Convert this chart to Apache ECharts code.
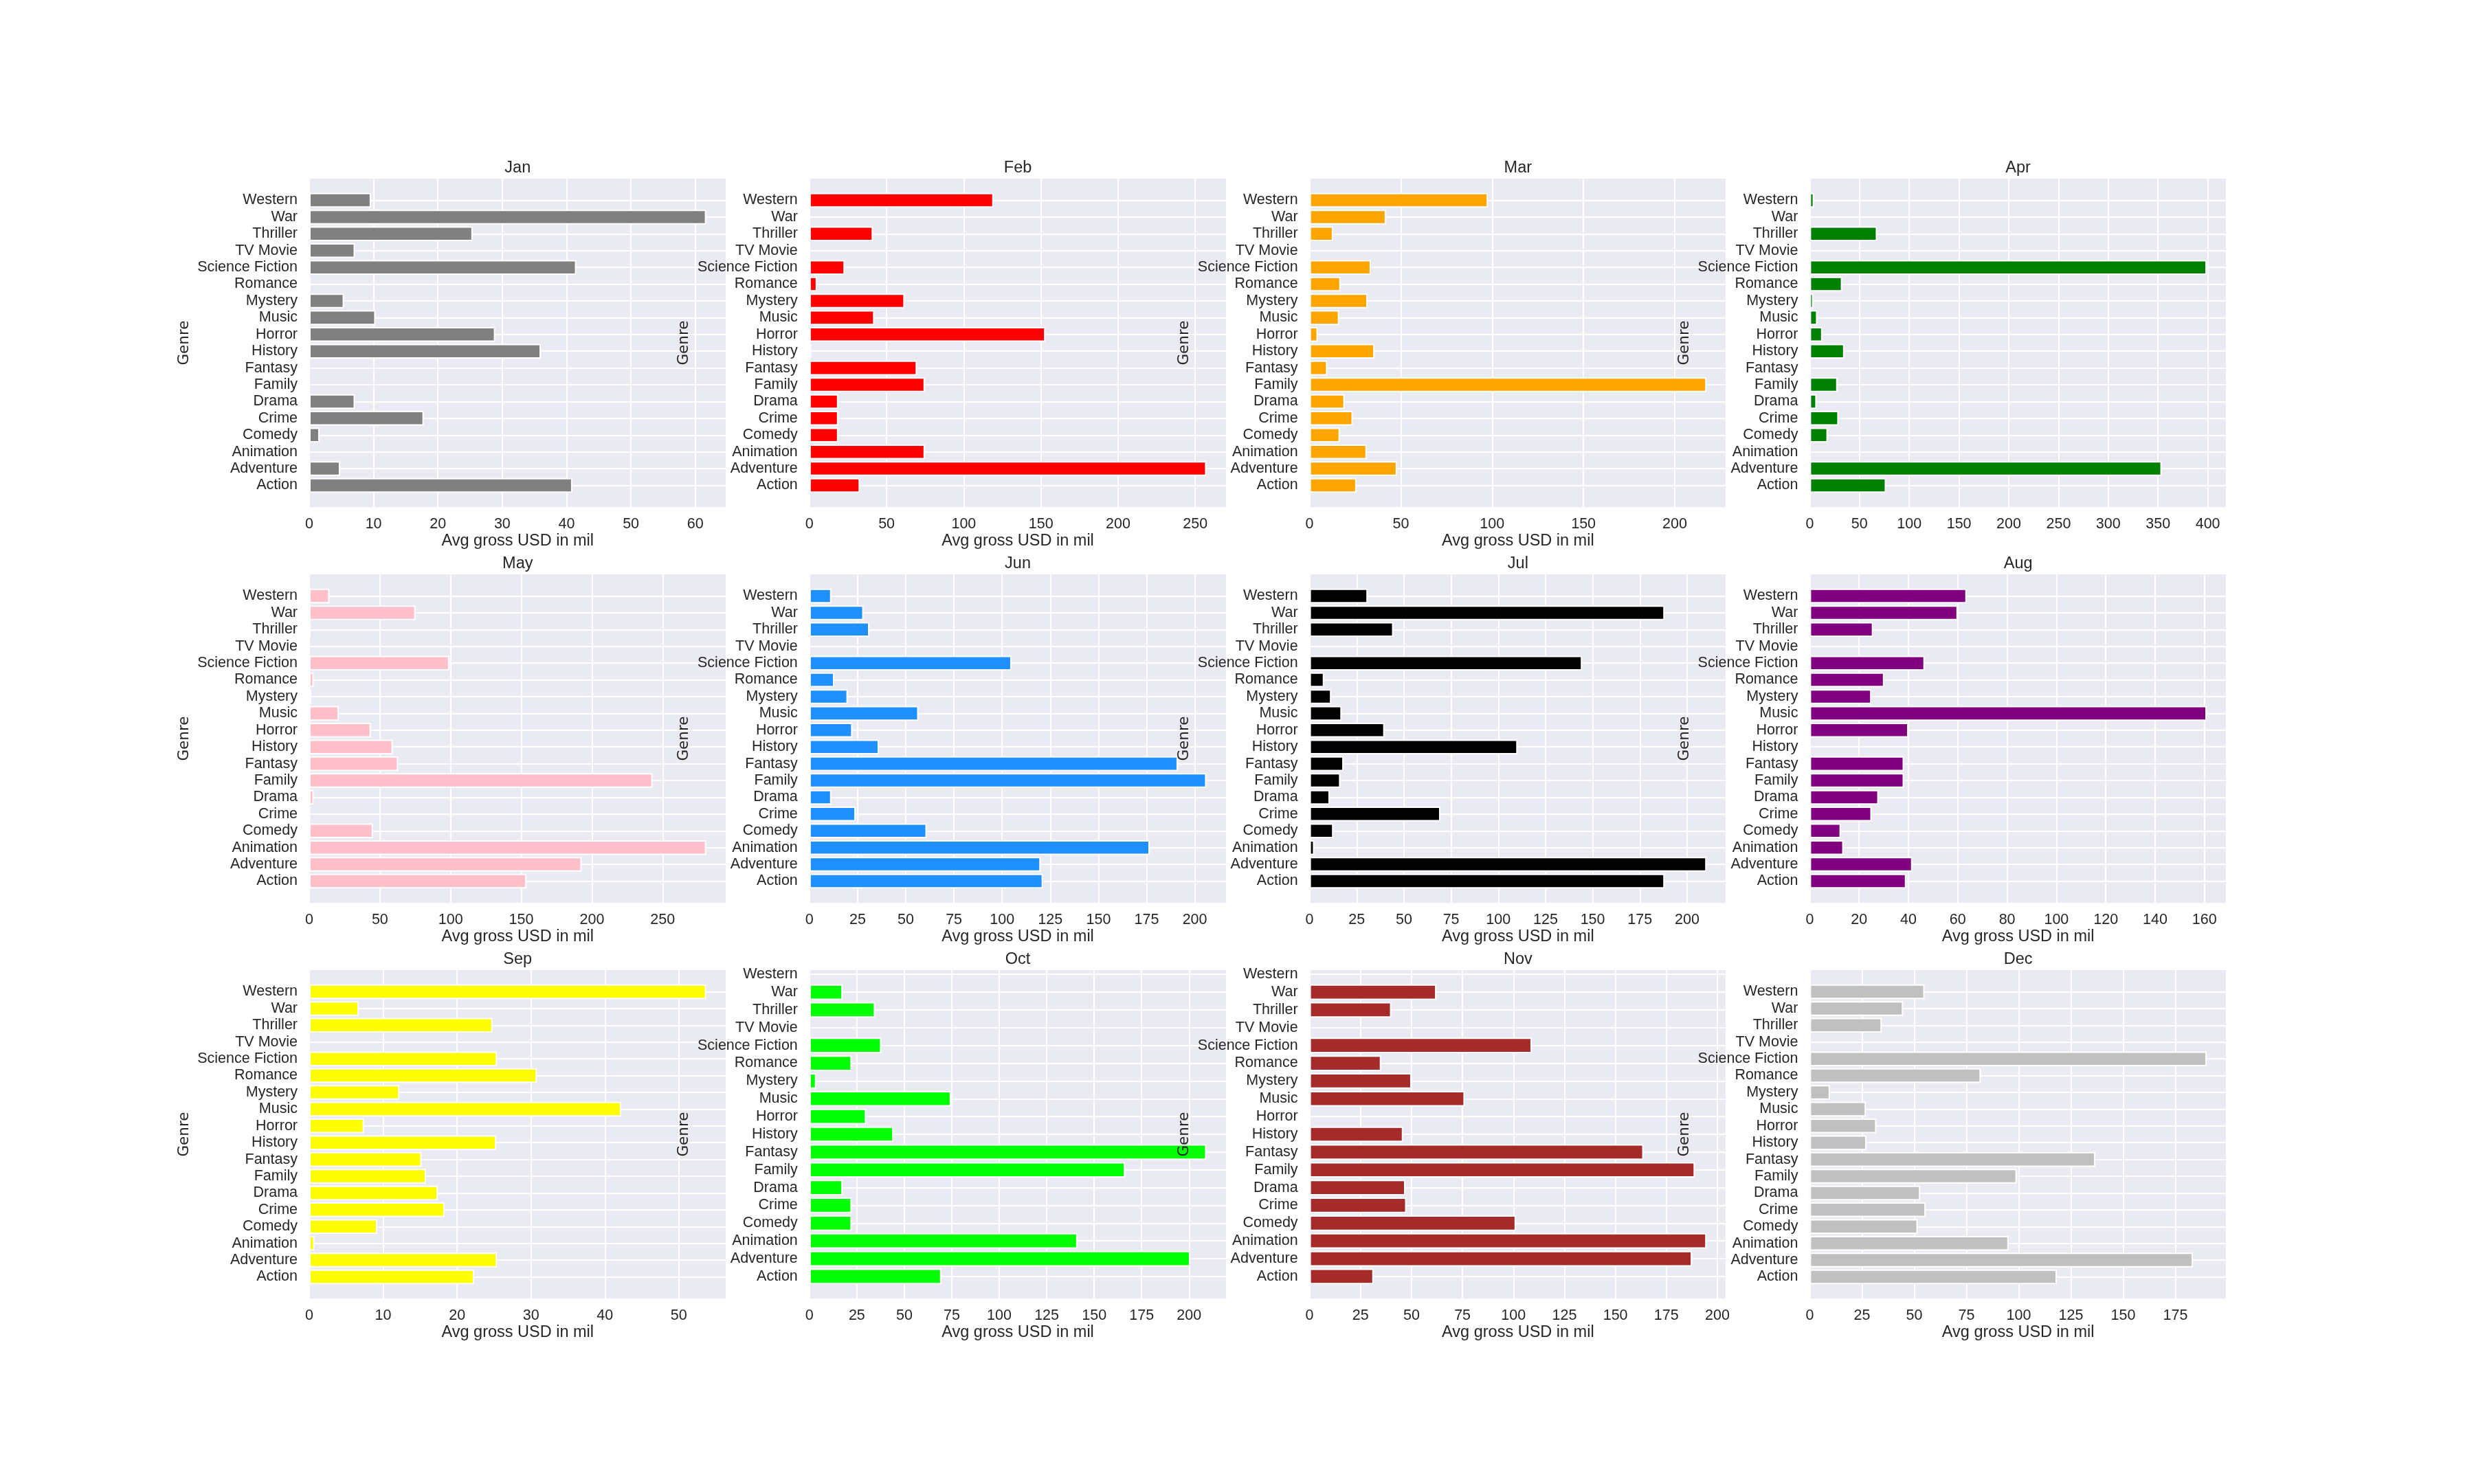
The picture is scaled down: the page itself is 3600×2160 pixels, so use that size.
<!DOCTYPE html>
<html><head><meta charset="utf-8">
<script src="https://cdn.jsdelivr.net/npm/echarts@6/dist/echarts.min.js"></script>
<style>html,body{margin:0;padding:0;background:#fff}#c{width:3600px;height:2160px}</style>
</head><body><div id="c"></div>
<script>
// Categories, bottom (Action) to top (Western)
const genres = ['Action','Adventure','Animation','Comedy','Crime','Drama','Family','Fantasy','History','Horror','Music','Mystery','Romance','Science Fiction','TV Movie','Thriller','War','Western'];
const months = ['Jan','Feb','Mar','Apr','May','Jun','Jul','Aug','Sep','Oct','Nov','Dec'];
const barColors = ['#808080','#FF0000','#FFA500','#008000','#FFC0CB','#1E90FF','#000000','#800080','#FFFF00','#00FF00','#A52A2A','#C0C0C0'];
const tickStep = [10,50,50,50,50,25,25,20,10,25,25,25];
const xNames = ['Avg gross USD in mil','Avg gross USD in mil','Avg gross USD in mil','',
  'Avg gross USD in mil','Avg gross USD in mil','Avg gross USD in mil','Avg gross USD in mil',
  'Avg gross USD in mil','Avg gross USD in mil','Avg gross USD in mil','Avg gross USD in mil'];

// Avg gross (USD mil) per genre, Action ... Western (null = no bar)
const jan = [40.9, 4.8, null, 1.6, 17.8, 7.1, null, null, 36.0, 28.9, 10.3, 5.4, 0.2, 41.5, 7.1, 25.4, 61.7, 9.6];
const feb = [32.7, 257.2, 74.8, 18.7, 18.7, 18.7, 74.8, 69.7, 1.2, 152.9, 42.1, 61.7, 4.9, 22.9, null, 41.2, 0, 119.3];
const mar = [25.7, 47.9, 31.3, 16.6, 23.7, 19.2, 217.4, 9.7, 35.6, 4.5, 16.2, 31.8, 17.0, 33.6, null, 12.9, 41.9, 97.7];
const apr = [76.7, 353.7, 0, 18.1, 29.0, 6.9, 27.9, 0.5, 34.8, 12.7, 7.6, 3.6, 32.6, 398.9, null, 67.7, 0.5, 4.3];
const may = [153.7, 192.7, 280.8, 45.1, 0.5, 3.1, 242.9, 62.9, 59.1, 43.6, 20.9, 1.5, 3.1, 99.1, null, 1.0, 75.2, 14.3];
const jun = [121.2, 120.0, 176.6, 60.9, 24.0, 11.4, 206.0, 191.2, 36.1, 22.3, 56.6, 19.9, 12.9, 104.9, null, 31.1, 28.1, 11.4];
const jul = [188.1, 210.3, 2.5, 12.6, 69.3, 10.7, 16.3, 18.0, 110.2, 39.7, 17.0, 11.5, 7.7, 144.4, null, 44.4, 188.1, 30.8];
const aug = [39.1, 41.6, 13.7, 12.6, 25.1, 27.9, 38.2, 38.2, null, 40.0, 160.9, 25.0, 30.2, 46.6, null, 25.7, 60.0, 63.6];
const sep = [22.3, 25.4, 0.7, 9.2, 18.3, 17.4, 15.8, 15.2, 25.3, 7.4, 42.2, 12.2, 30.8, 25.4, null, 24.8, 6.7, 53.7];
const oct = [69.5, 200.6, 141.2, 22.3, 22.3, 17.5, 166.3, 209.1, 44.3, 29.9, 74.6, 3.6, 22.3, 37.9, null, 34.6, 17.5];
const nov = [31.4, 187.6, 194.7, 101.2, 47.5, 47.0, 189.0, 163.8, 45.9, null, 76.1, 50.0, 35.1, 109.0, null, 40.1, 62.2];
const dec = [118.3, 183.4, 95.2, 51.7, 55.5, 52.9, 99.1, 136.7, 27.2, 31.9, 26.9, 9.7, 81.9, 190.0, null, 34.5, 44.7, 55.0];
const monthData = [jan, feb, mar, apr, may, jun, jul, aug, sep, oct, nov, dec];

const TXT = '#262626';
const FONT = "'Liberation Sans', Arial, sans-serif";
const L0 = 450, W = 606.5, colStep = 727.8;
const tops = [260, 836, 1412], H = 478;
const EDGE = 2;

const grid = [], xAxis = [], yAxis = [], series = [];
monthData.forEach((vals, i) => {
  const r = Math.floor(i / 4), c = i % 4;
  const left = L0 + c * colStep, top = tops[r];
  const n = vals.length;
  const m = 0.05 * (n - 0.2);
  const lo = -0.4 - m, hi = n - 0.6 + m;
  const ppu = H / (hi - lo);
  const topInset = (hi - (genres.length - 1)) * ppu;
  const botInset = (0 - lo) * ppu;
  const xmax = Math.max(...vals.filter(v => v != null)) * 1.05;

  grid.push({left, top, width: W, height: H, show: true, backgroundColor: '#EAEAF2', borderWidth: 0, outerBoundsMode: 'none'});
  grid.push({left, top: top + topInset, width: W, height: H - topInset - botInset, show: false, outerBoundsMode: 'none'});

  // bottom value axis with gridlines and label
  xAxis.push({
    gridIndex: 2 * i, type: 'value', min: 0, max: xmax, interval: tickStep[i],
    axisLine: {show: false}, axisTick: {show: false},
    splitLine: {show: true, lineStyle: {color: '#ffffff', width: 2}},
    axisLabel: {color: TXT, fontSize: 21.5, fontFamily: FONT, margin: 14, showMaxLabel: false},
    name: xNames[i], nameLocation: 'middle', nameGap: 38,
    nameTextStyle: {color: TXT, fontSize: 23.5, fontFamily: FONT}
  });
  // top axis carrying the subplot title
  xAxis.push({
    gridIndex: 2 * i, type: 'value', position: 'top', min: 0, max: 1,
    axisLine: {show: false}, axisTick: {show: false}, axisLabel: {show: false}, splitLine: {show: false},
    name: months[i], nameLocation: 'middle', nameGap: 3,
    nameTextStyle: {color: TXT, fontSize: 23.5, fontFamily: FONT}
  });
  // bar value axis (hidden)
  xAxis.push({gridIndex: 2 * i + 1, type: 'value', min: 0, max: xmax, show: false});

  yAxis.push({
    gridIndex: 2 * i, type: 'value', min: 0, max: 1, z: 10,
    axisLine: {show: false}, axisTick: {show: false}, axisLabel: {show: false}, splitLine: {show: false},
    name: 'Genre', nameLocation: 'middle', nameGap: 171,
    nameTextStyle: {color: TXT, fontSize: 21.5, fontFamily: "'DejaVu Sans', sans-serif"}
  });
  yAxis.push({
    gridIndex: 2 * i + 1, type: 'category', data: genres, boundaryGap: false,
    axisLine: {show: false}, axisTick: {show: false},
    axisLabel: {interval: 0, margin: 17, color: TXT, fontSize: 21.5, fontFamily: FONT},
    splitLine: {show: true, interval: 0, lineStyle: {color: '#ffffff', width: 2}}
  });

  series.push({
    type: 'bar', xAxisIndex: 3 * i + 2, yAxisIndex: 2 * i + 1,
    data: vals.map(v => v == null ? '-' : v),
    barWidth: 0.8 * ppu + EDGE, clip: false, silent: true,
    itemStyle: {color: barColors[i], borderColor: '#ffffff', borderWidth: EDGE}
  });
});

const chart = echarts.init(document.getElementById('c'), null, {renderer: 'canvas'});
chart.setOption({animation: false, backgroundColor: '#ffffff', grid, xAxis, yAxis, series});
</script>
</body></html>
